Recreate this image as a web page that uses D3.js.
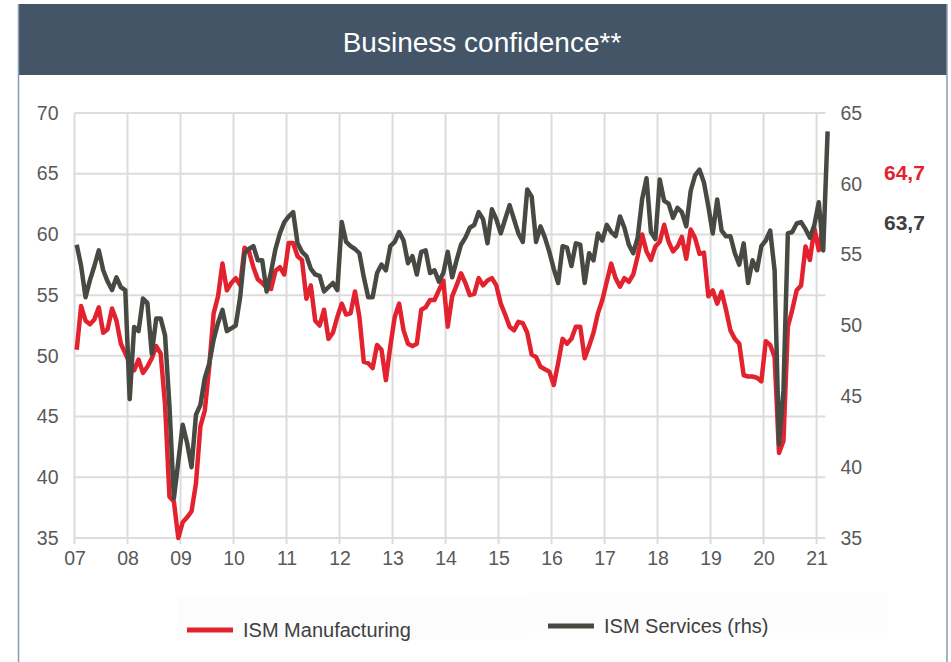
<!DOCTYPE html>
<html>
<head>
<meta charset="utf-8">
<script src="https://cdn.jsdelivr.net/npm/d3@7"></script>
<style>
  body { margin: 0; background: #fff; }
  svg text { font-family: "Liberation Sans", Arial, sans-serif; }
</style>
</head>
<body>
<div id="chart"></div>
<script>
// monthly data, Jan 2007 onwards
var yearLabels = ["07","08","09","10","11","12","13","14","15","16","17","18","19","20","21"];

var ismManufacturing = [
  50.5, 54.1, 52.9, 52.6, 53.0, 54.0, 51.9, 52.2, 53.9, 52.9, 51.0, 50.2,
  49.4, 48.8, 49.7, 48.6, 49.1, 49.8, 50.8, 50.2, 46.0, 38.4, 38.0, 35.0,
  36.3, 36.7, 37.2, 39.5, 44.2, 45.5, 49.1, 53.5, 54.9, 57.6, 55.4, 56.0,
  56.4, 55.8, 58.9, 58.6, 57.3, 56.3, 56.0, 55.6, 55.5, 57.0, 57.3, 56.7,
  59.3, 59.3, 58.2, 57.9, 54.7, 55.8, 52.9, 52.5, 53.8, 51.4, 51.9, 53.2,
  54.3, 53.4, 53.5, 55.3, 53.2, 49.5, 49.4, 49.0, 50.9, 50.5, 48.0, 50.8,
  53.2, 54.3, 52.1, 51.0, 50.8, 51.0, 53.8, 54.0, 54.6, 54.6, 55.4, 56.2,
  52.4, 54.9, 55.8, 56.8, 56.0, 55.0, 55.1, 56.4, 55.8, 56.2, 56.4, 55.8,
  54.3, 53.4, 52.4, 52.1, 52.8, 52.7, 51.9, 50.1, 49.9, 49.1, 48.9, 48.7,
  47.6, 49.4, 51.4, 51.0, 51.4, 52.4, 52.4, 49.8, 50.8, 51.9, 53.5, 54.6,
  56.1, 57.6, 56.4, 55.7, 56.4, 56.1, 56.7, 58.2, 60.0, 58.6, 57.9, 59.0,
  59.4, 60.8, 59.4, 58.6, 59.0, 59.8, 58.0, 60.4, 59.7, 58.4, 58.5, 54.9,
  55.4, 54.3, 55.3, 53.8, 52.1, 51.4, 51.0, 48.4, 48.3, 48.3, 48.2, 47.9,
  51.2, 50.9, 49.9, 42.0, 43.0, 52.4, 53.8, 55.4, 55.8, 59.0, 57.9, 60.5,
  58.7, 60.8
];

var ismServices = [
  55.7, 54.2, 52.0, 53.2, 54.2, 55.3, 53.9, 53.1, 52.5, 53.4, 52.7, 52.5,
  44.8, 49.9, 49.6, 51.9, 51.6, 48.0, 50.5, 50.5, 49.3, 44.3, 37.8, 40.4,
  43.0, 41.7, 40.0, 43.7, 44.4, 46.3, 47.3, 49.0, 50.2, 51.1, 49.6, 49.8,
  50.0, 52.0, 55.1, 55.4, 55.6, 54.6, 54.6, 52.4, 53.8, 55.4, 56.5, 57.3,
  57.7, 58.0, 55.8, 55.2, 54.9, 54.0, 53.6, 53.5, 52.4, 52.7, 53.0, 52.5,
  57.3, 55.9, 55.6, 55.4, 55.1, 53.4, 52.0, 52.0, 53.7, 54.3, 53.9, 55.6,
  55.9, 56.6, 56.0, 54.4, 54.9, 53.6, 55.2, 55.3, 53.7, 53.9, 53.1, 53.7,
  55.2, 53.4, 54.6, 55.7, 56.2, 56.9, 57.1, 58.0, 57.5, 55.8, 58.2, 57.5,
  56.5, 57.5, 58.5, 57.5, 56.5, 55.9, 59.6, 59.1, 55.9, 57.0, 56.2, 55.2,
  54.0, 53.0, 55.6, 55.5, 54.2, 55.8, 55.7, 53.0, 55.1, 54.6, 56.5, 56.0,
  57.1, 56.6, 56.3, 57.7, 56.9, 55.7, 55.1, 56.2, 58.9, 60.4, 56.6, 56.1,
  60.3, 58.8, 58.6, 57.6, 58.3, 58.0, 57.0, 59.5, 60.6, 61.0, 60.1, 58.4,
  56.5, 58.9, 56.7, 56.3, 56.3, 55.1, 54.3, 55.8, 53.0, 54.6, 53.9, 55.6,
  56.0, 56.7, 53.9, 41.6, 45.4, 56.5, 56.6, 57.2, 57.3, 56.8, 56.2, 57.1,
  58.7, 55.3, 63.7
];

var leftTicks = [35, 40, 45, 50, 55, 60, 65, 70];
var rightTicks = [35, 40, 45, 50, 55, 60, 65];
var lastValues = ["64,7", "63,7"];

var red = "#e3222f";
var dark = "#474a42";
var grid = "#dcdcdc";
var textCol = "#595959";

var svgWidth = 951, svgHeight = 662;

var svg = d3.select("#chart").append("svg")
  .attr("width", svgWidth)
  .attr("height", svgHeight);

// frame + title bar
svg.append("rect")
  .attr("x", 18).attr("y", 4).attr("width", 929).attr("height", 71)
  .attr("fill", "#435566");
svg.append("line")
  .attr("x1", 18.5).attr("x2", 18.5).attr("y1", 4).attr("y2", svgHeight)
  .attr("stroke", "#8b9bb0").attr("stroke-width", 1.5);
svg.append("line")
  .attr("x1", 947).attr("x2", 947).attr("y1", 4).attr("y2", svgHeight)
  .attr("stroke", "#8b9bb0").attr("stroke-width", 1.5);

svg.append("text")
  .attr("x", 482).attr("y", 42)
  .attr("text-anchor", "middle")
  .attr("dominant-baseline", "central")
  .attr("fill", "#ffffff")
  .style("font-size", "28px")
  .text("Business confidence**");

// scales
var x = d3.scaleLinear().domain([0, 170]).range([74.5, 825.4]);
var yLeft = d3.scaleLinear().domain([35, 70]).range([538, 113]);
var yRight = d3.scaleLinear().domain([35, 65]).range([538, 113]);

var chartGroup = svg.append("g");

// gridlines
chartGroup.selectAll(".hgrid").data(leftTicks).enter()
  .append("line")
  .attr("x1", x(0)).attr("x2", x(170))
  .attr("y1", d => yLeft(d)).attr("y2", d => yLeft(d))
  .attr("stroke", grid).attr("stroke-width", 2);

chartGroup.selectAll(".vgrid").data(yearLabels).enter()
  .append("line")
  .attr("x1", (d, i) => x(i * 12)).attr("x2", (d, i) => x(i * 12))
  .attr("y1", yLeft(70)).attr("y2", yLeft(35) + 6)
  .attr("stroke", grid).attr("stroke-width", 2);

// axes (labels only)
var bottomAxis = d3.axisBottom(x)
  .tickValues(yearLabels.map((d, i) => i * 12))
  .tickFormat((d, i) => yearLabels[i])
  .tickSize(0).tickPadding(13);
var leftAxis = d3.axisLeft(yLeft).tickValues(leftTicks).tickSize(0).tickPadding(16);
var rightAxis = d3.axisRight(yRight).tickValues(rightTicks).tickSize(0).tickPadding(15);

function styleAxis(g) {
  g.select(".domain").remove();
  g.selectAll("text").attr("fill", textCol).style("font-size", "19.5px")
    .style("font-family", "'Liberation Sans', Arial, sans-serif");
}

chartGroup.append("g")
  .attr("transform", `translate(0, ${yLeft(35)})`)
  .call(bottomAxis).call(styleAxis);
chartGroup.append("g")
  .attr("transform", `translate(${x(0)}, 0)`)
  .call(leftAxis).call(styleAxis);
chartGroup.append("g")
  .attr("transform", `translate(${x(170)}, 0)`)
  .call(rightAxis).call(styleAxis);

// series lines
var lineLeft = d3.line()
  .x((d, i) => x(i + 0.5))
  .y(d => yLeft(d));
var lineRight = d3.line()
  .x((d, i) => x(i + 0.5))
  .y(d => yRight(d));

chartGroup.append("path")
  .datum(ismManufacturing)
  .attr("d", lineLeft)
  .attr("fill", "none")
  .attr("stroke", red)
  .attr("stroke-width", 4.5)
  .attr("stroke-linejoin", "round");

chartGroup.append("path")
  .datum(ismServices)
  .attr("d", lineRight)
  .attr("fill", "none")
  .attr("stroke", dark)
  .attr("stroke-width", 4.5)
  .attr("stroke-linejoin", "round");

// last values
svg.append("text")
  .attr("x", 884).attr("y", 172)
  .attr("dominant-baseline", "central")
  .attr("fill", red)
  .style("font-size", "21px").style("font-weight", "bold")
  .text(lastValues[0]);
svg.append("text")
  .attr("x", 884).attr("y", 222)
  .attr("dominant-baseline", "central")
  .attr("fill", "#404040")
  .style("font-size", "21px").style("font-weight", "bold")
  .text(lastValues[1]);

// legend
var legend = [
  {name: "ISM Manufacturing", color: red, x: 187, y: 630, box: [178, 596, 350, 44]},
  {name: "ISM Services (rhs)", color: dark, x: 548, y: 626, box: [528, 593, 360, 40]}
];

var leg = svg.selectAll(".legend").data(legend).enter().append("g");
leg.append("rect")
  .attr("x", d => d.box[0]).attr("y", d => d.box[1])
  .attr("width", d => d.box[2]).attr("height", d => d.box[3])
  .attr("fill", "#fcfcfd");
leg.append("line")
  .attr("x1", d => d.x).attr("x2", d => d.x + 46)
  .attr("y1", d => d.y).attr("y2", d => d.y)
  .attr("stroke", d => d.color).attr("stroke-width", 5);
leg.append("text")
  .attr("x", d => d.x + 56).attr("y", d => d.y)
  .attr("dominant-baseline", "central")
  .attr("fill", "#404040")
  .style("font-size", "20px")
  .text(d => d.name);
</script>
</body>
</html>
